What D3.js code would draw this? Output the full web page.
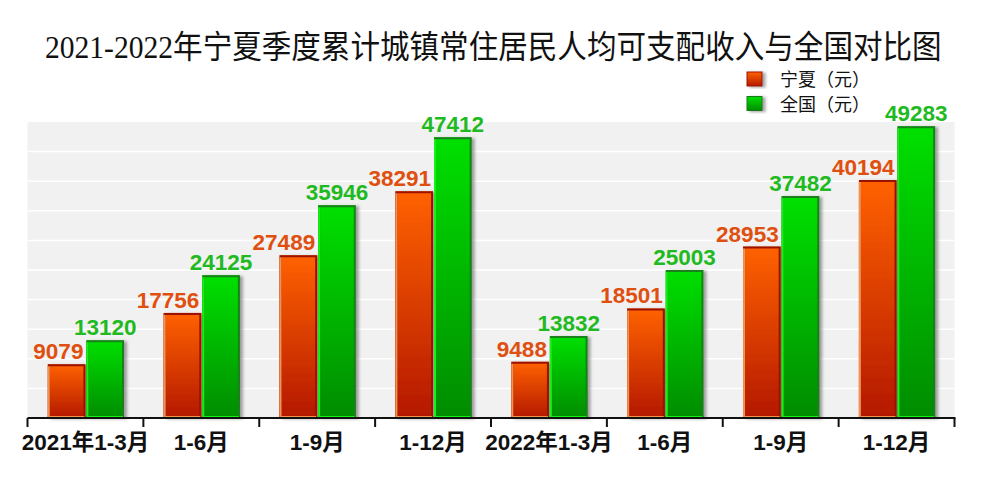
<!DOCTYPE html>
<html><head><meta charset="utf-8">
<script src="https://cdn.jsdelivr.net/npm/d3@7"></script>
<style>body{margin:0;background:#fff}svg{display:block}</style>
</head><body>
<svg id="c" width="987" height="486"></svg>
<script>
const title = "2021-2022年宁夏季度累计城镇常住居民人均可支配收入与全国对比图";
const categories = ["2021年1-3月","1-6月","1-9月","1-12月","2022年1-3月","1-6月","1-9月","1-12月"];
const seriesNames = ["宁夏（元）","全国（元）"];
const ningxia = [9079,17756,27489,38291,9488,18501,28953,40194];
const national = [13120,24125,35946,47412,13832,25003,37482,49283];
const yTicks = [0,5000,10000,15000,20000,25000,30000,35000,40000,45000,50000];

const svg = d3.select("#c");
const m = {l:27.5, r:954.5, t:122, b:418};
const defs = svg.append("defs");
function grad(id, c1, c2){
  const g = defs.append("linearGradient").attr("id",id).attr("x1",0).attr("y1",0).attr("x2",0).attr("y2",1);
  g.append("stop").attr("offset","0%").attr("stop-color",c1);
  g.append("stop").attr("offset","100%").attr("stop-color",c2);
}
grad("gO","#ff6200","#b41800");
grad("gG","#00e000","#008c00");
const f = defs.append("filter").attr("id","sh").attr("x","-20%").attr("y","-20%").attr("width","160%").attr("height","140%");
f.append("feDropShadow").attr("dx",3).attr("dy",1).attr("stdDeviation",1.8).attr("flood-color","#555").attr("flood-opacity",0.55);

const x0 = d3.scaleBand().domain(d3.range(categories.length)).range([m.l,m.r]).padding(0);
const x1 = d3.scaleBand().domain([0,1]).range([20.3,96.5]).paddingInner(0.025);
const y = d3.scaleLinear().domain([0,50000]).range([m.b,m.t]);

// plot bg
svg.append("rect").attr("x",m.l).attr("y",m.t).attr("width",m.r-m.l).attr("height",m.b-m.t).attr("fill","#f1f1f1");
svg.append("g").selectAll("line").data(yTicks.slice(1,-1)).join("line")
  .attr("x1",m.l).attr("x2",m.r).attr("y1",d=>y(d)).attr("y2",d=>y(d))
  .attr("stroke","#ffffff").attr("stroke-width",1.5);

// title (condensed horizontally to fit the reference width)
const tt = svg.append("text").attr("x",0).attr("y",0)
  .attr("font-family","'Liberation Serif','Noto Sans CJK SC'").attr("font-size",32).attr("fill","#111").text(title);
const tw = tt.node().getComputedTextLength();
const sx = 897 / tw;
tt.attr("transform",`translate(45,58) scale(${sx},1)`);

// legend
const legCols = [["gO","#a01000"],["gG","#137a13"]];
seriesNames.forEach((s,i)=>{
  const yy = 72 + i*24.5;
  const g = svg.append("g");
  g.append("rect").attr("x",747).attr("y",yy).attr("width",15).attr("height",14).attr("fill",`url(#${legCols[i][0]})`)
   .attr("stroke",legCols[i][1]).attr("stroke-width",1).attr("filter","url(#sh)");
  g.append("text").attr("x",780).attr("y",yy+14).attr("font-family","'Noto Sans CJK SC'").attr("font-size",18).attr("fill","#111").text(s);
});

// bars
const data = categories.map((c,i)=>({i, vals:[ningxia[i], national[i]]}));
const cols = [
  {fill:"url(#gO)", dark:"#9c1200", light:"#f39350", label:"#df4f10"},
  {fill:"url(#gG)", dark:"#1b7f1b", light:"#16f016", label:"#1fba1f"}
];
const groups = svg.append("g").selectAll("g").data(data).join("g").attr("transform",d=>`translate(${x0(d.i)},0)`);
groups.each(function(d){
  const g = d3.select(this);
  d.vals.forEach((v,k)=>{
    const bx = x1(k), bw = x1.bandwidth(), by = y(v), bh = y(0)-y(v);
    const c = cols[k];
    g.append("rect").attr("x",bx).attr("y",by).attr("width",bw).attr("height",bh).attr("fill",c.fill).attr("filter","url(#sh)");
    g.append("path").attr("d",`M${bx+1},${by+bh} L${bx+1},${by+1} L${bx+bw-1},${by+1} L${bx+bw-1},${by+bh}`)
      .attr("fill","none").attr("stroke",c.dark).attr("stroke-width",2);
    g.append("path").attr("d",`M${bx+1},${by+2} L${bx+1},${by+bh-1} L${bx+bw-1},${by+bh-1}`)
      .attr("fill","none").attr("stroke",c.light).attr("stroke-width",2);
    const t = g.append("text").attr("y",by-5).attr("font-family","'Liberation Sans',Arial,sans-serif")
      .attr("font-weight","bold").attr("font-size",22.5).attr("fill",c.label).text(v);
    if(k===0) t.attr("x",bx+bw-2).attr("text-anchor","end");
    else t.attr("x",bx+bw/2).attr("text-anchor","middle");
  });
});

// x axis
const ax = svg.append("g");
ax.append("line").attr("x1",m.l).attr("x2",m.r+1).attr("y1",m.b).attr("y2",m.b).attr("stroke","#111").attr("stroke-width",2);
const tickXs = d3.range(categories.length+1).map(i=> i<categories.length ? x0(i) : x0(i-1)+x0.bandwidth());
ax.selectAll("line.t").data(tickXs).join("line").attr("class","t")
  .attr("x1",d=>d).attr("x2",d=>d).attr("y1",m.b).attr("y2",m.b+9).attr("stroke","#111").attr("stroke-width",2);
ax.selectAll("text").data(categories).join("text")
  .attr("x",(d,i)=>x0(i)+x0.bandwidth()/2).attr("y",450).attr("text-anchor","middle")
  .attr("font-family","'Liberation Sans','Noto Sans CJK SC',sans-serif").attr("font-weight","bold").attr("font-size",22.5)
  .attr("fill","#111").text(d=>d);
</script>
</body></html>
